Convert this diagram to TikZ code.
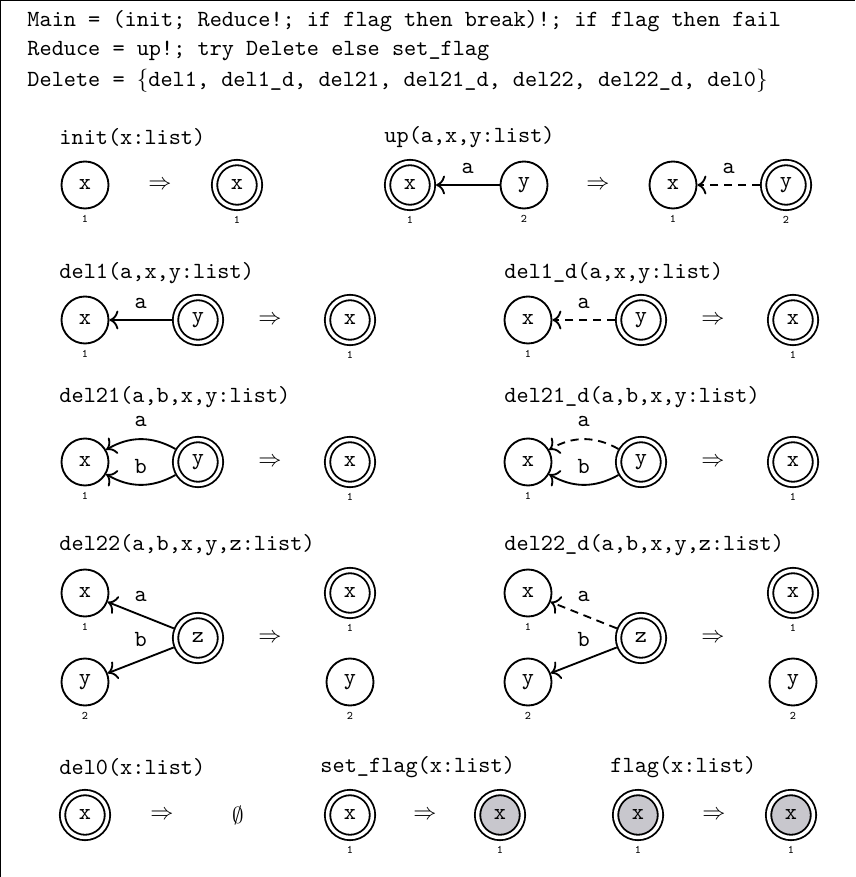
\documentclass[tikz,border=0pt]{standalone}
\usepackage{amssymb}
\definecolor{flaggray}{RGB}{200,199,205}
\usetikzlibrary{arrows.meta,positioning}

\begin{document}
\begin{tikzpicture}[x=0.432pt,y=-0.432pt,
  nd/.style={draw,circle,line width=0.8pt,minimum size=20.3pt,inner sep=0pt,font=\ttfamily},
  rt/.style={nd,minimum size=19.4pt,double,double distance=1.5pt,outer sep=1.55pt},
  gr/.style={rt,fill=flaggray},
  num/.style={label={[font=\tiny\ttfamily,inner sep=0pt,label distance=2.2pt]below:#1}},
  rulename/.style={anchor=west,inner sep=0pt,font=\ttfamily},
  solidarr/.style={-{To[scale=1.15]},line width=0.8pt},
  dasharr/.style={solidarr,dash pattern=on 3.5pt off 2.5pt},
  el/.style={font=\ttfamily,above=#1},
  el/.default=1pt]
  \useasboundingbox (0,0) rectangle (855,877);
  \draw[line width=0.5pt] (0.7,877) -- (0.7,0.7) -- (855,0.7);
  \node[rulename] (main) at (27,21) {Main = (init; Reduce!; if flag then break)!; if flag then fail};
  \node[rulename] (reduce) at (27,51) {Reduce = up!; try Delete else set\_flag};
  \node[rulename] (delete) at (27,81) {Delete = $\{$del1, del1\_d, del21, del21\_d, del22, del22\_d, del0$\}$};

  \node[rulename] (tinit) at (59,137) {init(x:list)};
  \node[nd,num=1] (i1x) at (85,185) {x};
  \node (i1to) at (160,185) {$\Rightarrow$};
  \node[rt,num=1] (i2x) at (237,185) {x};
  \node[rulename] (tup) at (384,137) {up(a,x,y:list)};
  \node[rt,num=1] (u1x) at (410,185) {x};
  \node[nd,num=2] (u1y) at (524,185) {y};
  \node (u1to) at (598,185) {$\Rightarrow$};
  \node[nd,num=1] (u2x) at (673,185) {x};
  \node[rt,num=2] (u2y) at (786,185) {y};
  \draw[solidarr] (u1y) -- node[el]{a} (u1x);
  \draw[dasharr] (u2y) -- node[el]{a} (u2x);

  \node[rulename] (tdela) at (59,273) {del1(a,x,y:list)};
  \node[nd,num=1] (a1x) at (85,320) {x};
  \node[rt] (a1y) at (198,320) {y};
  \node (a1to) at (270,320) {$\Rightarrow$};
  \node[rt,num=1] (a2x) at (350,320) {x};
  \draw[solidarr] (a1y) -- node[el]{a} (a1x);
  \node[rulename] (tdelad) at (504,273) {del1\_d(a,x,y:list)};
  \node[nd,num=1] (ad1x) at (528,320) {x};
  \node[rt] (ad1y) at (641,320) {y};
  \node (ad1to) at (713,320) {$\Rightarrow$};
  \node[rt,num=1] (ad2x) at (793,320) {x};
  \draw[dasharr] (ad1y) -- node[el]{a} (ad1x);

  \node[rulename] (tdelb) at (59,397) {del21(a,b,x,y:list)};
  \node[nd,num=1] (b1x) at (85,462) {x};
  \node[rt] (b1y) at (198,462) {y};
  \node (b1to) at (270,462) {$\Rightarrow$};
  \node[rt,num=1] (b2x) at (350,462) {x};
  \draw[solidarr] (b1y) to[bend right=30] node[el=1.5pt]{a} (b1x);
  \draw[solidarr] (b1y) to[bend left=30] node[el]{b} (b1x);
  \node[rulename] (tdelbd) at (504,397) {del21\_d(a,b,x,y:list)};
  \node[nd,num=1] (bd1x) at (528,462) {x};
  \node[rt] (bd1y) at (641,462) {y};
  \node (bd1to) at (713,462) {$\Rightarrow$};
  \node[rt,num=1] (bd2x) at (793,462) {x};
  \draw[dasharr] (bd1y) to[bend right=30] node[el=1.5pt]{a} (bd1x);
  \draw[solidarr] (bd1y) to[bend left=30] node[el]{b} (bd1x);

  \node[rulename] (tdelc) at (59,545) {del22(a,b,x,y,z:list)};
  \node[nd,num=1] (c1x) at (85,593) {x};
  \node[rt] (c1z) at (198,638) {z};
  \node[nd,num=2] (c1y) at (85,682) {y};
  \node (c1to) at (270,638) {$\Rightarrow$};
  \node[rt,num=1] (c2x) at (350,593) {x};
  \node[nd,num=2] (c2y) at (350,682) {y};
  \draw[solidarr] (c1z) -- node[el=2pt]{a} (c1x);
  \draw[solidarr] (c1z) -- node[el=2pt]{b} (c1y);
  \node[rulename] (tdelcd) at (504,545) {del22\_d(a,b,x,y,z:list)};
  \node[nd,num=1] (cd1x) at (528,593) {x};
  \node[rt] (cd1z) at (641,638) {z};
  \node[nd,num=2] (cd1y) at (528,682) {y};
  \node (cd1to) at (713,638) {$\Rightarrow$};
  \node[rt,num=1] (cd2x) at (793,593) {x};
  \node[nd,num=2] (cd2y) at (793,682) {y};
  \draw[dasharr] (cd1z) -- node[el=2pt]{a} (cd1x);
  \draw[solidarr] (cd1z) -- node[el=2pt]{b} (cd1y);

  \node[rulename] (tdelz) at (59,767) {del0(x:list)};
  \node[rt] (z1x) at (85,815) {x};
  \node (z1to) at (162,815) {$\Rightarrow$};
  \node (z2) at (238,815) {$\emptyset$};
  \node[rulename] (tset) at (320,767) {set\_flag(x:list)};
  \node[rt,num=1] (s1x) at (350,815) {x};
  \node (s1to) at (425,815) {$\Rightarrow$};
  \node[gr,num=1] (s2x) at (500,815) {x};
  \node[rulename] (tflag) at (610,767) {flag(x:list)};
  \node[gr,num=1] (f1x) at (638,815) {x};
  \node (f1to) at (714,815) {$\Rightarrow$};
  \node[gr,num=1] (f2x) at (791,815) {x};
\end{tikzpicture}
\end{document}
